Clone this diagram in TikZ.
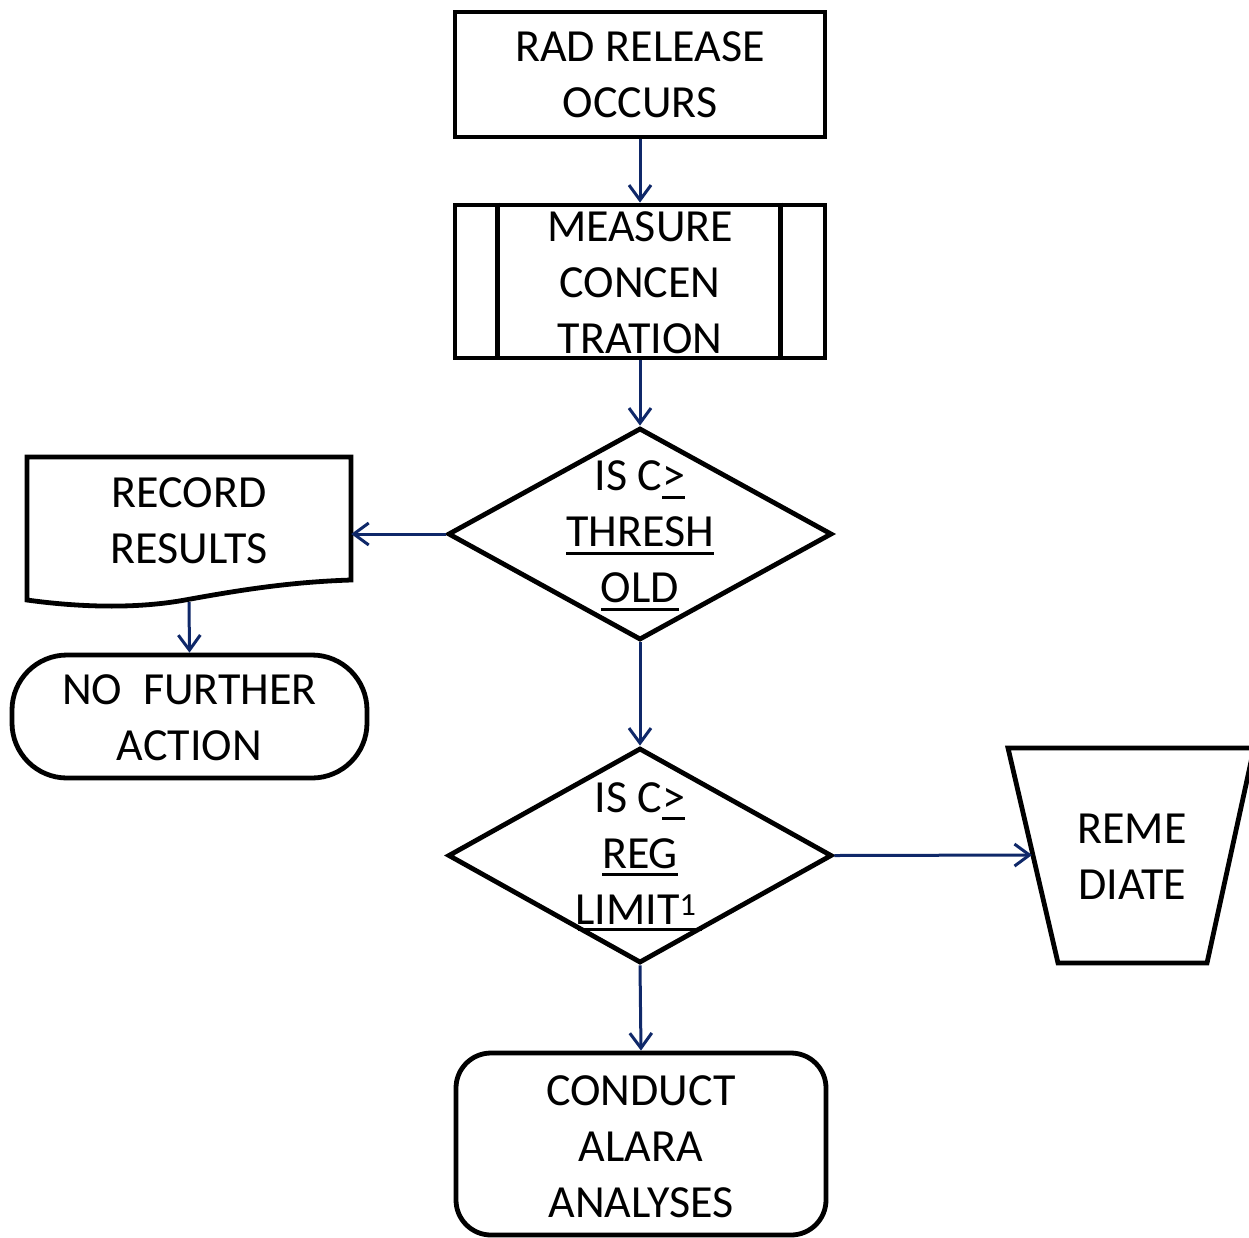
\documentclass[tikz,border=0pt]{standalone}
\usepackage{fontspec}
\setmainfont{Carlito}
\usetikzlibrary{arrows.meta,shapes.geometric}
\definecolor{flowblue}{RGB}{15,40,105}
% underline with a rule of chosen depth and thickness
\newcommand\ulin[3][-8pt]{\leavevmode\setbox0\hbox{#3}\rlap{\rule[#1]{\wd0}{#2}}\box0}

\begin{document}
\begin{tikzpicture}[x=1pt,y=-1pt,
  shp/.style={draw=black,line width=4.8pt,inner sep=0pt},
  lbl/.style={align=center,font=\fontsize{46}{56}\selectfont,inner sep=0pt},
  flow/.style={draw=flowblue,line width=3pt,-{Straight Barb[length=15pt,width=22pt]}}]
\useasboundingbox (0,0) rectangle (1249,1237);

% start event
\node[shp,minimum width=370pt,minimum height=125pt] (rad) at (640,74.5) {};
\node[lbl] at (rad) {RAD RELEASE\\OCCURS};

% predefined process
\node[shp,minimum width=370pt,minimum height=153pt] (meas) at (640,281.5) {};
\draw[line width=4.8pt] ([xshift=45pt]meas.north west) -- ([xshift=45pt]meas.south west);
\draw[line width=4.8pt] ([xshift=-47pt]meas.north east) -- ([xshift=-47pt]meas.south east);
\node[lbl] at (640,283) {MEASURE\\CONCEN\\TRATION};

% first decision
\node[shp,shape=diamond,minimum width=384pt,minimum height=212pt] (d1) at (640,534) {};
\node[lbl] at (640,536) {IS C\ulin{3pt}{>}\\\ulin{3pt}{THRESH}\\\ulin{3pt}{OLD}};

% document
\node[minimum width=324pt,minimum height=145pt,inner sep=0pt] (rec) at (189,529.5) {};
\draw[line width=4.8pt,line join=miter] (27,457) -- (351,457) -- (351,580)
  .. controls (290,582) and (240,590) .. (185,600)
  .. controls (130,610) and (70,606) .. (27,600) -- cycle;
\node[lbl] at (189,521) {RECORD\\RESULTS};

% terminator
\node[shp,minimum width=355pt,minimum height=123pt,rounded corners=55pt] (nfa) at (189.5,716.5) {};
\node[lbl] at (189.5,718) {NO\ \ FURTHER\\ACTION};

% second decision
\node[shp,shape=diamond,minimum width=384pt,minimum height=215pt] (d2) at (640,855.5) {};
\node[lbl] at (640,857) {IS C\ulin{3pt}{>}\\\ulin{3pt}{REG}\\\ulin[-7pt]{3.5pt}{\kern-3pt LIMIT\textsuperscript{1}\kern5pt}};

% manual operation
\node[minimum width=200pt,minimum height=215pt,inner sep=0pt] (rem) at (1132,855.5) {};
\draw[line width=4.8pt,line join=miter] (1254,748) -- (1008,748) -- (1058,963) -- (1207,963) -- (1254,748);
\coordinate (remin) at (1032,855);
\node[lbl] at (1132,857) {REME\\DIATE};

% final process
\node[shp,minimum width=370pt,minimum height=182pt,rounded corners=35pt] (alara) at (641,1144) {};
\node[lbl] at (641,1147) {CONDUCT\\ALARA\\ANALYSES};

% connectors
\draw[flow] (rad.south) -- (meas.north);
\draw[flow] (meas.south) -- (d1.north);
\draw[flow] (d1.west) -- (d1.west -| rec.east);
\draw[flow] (rec.south) -- (nfa.north);
\draw[flow] (d1.south) -- (d2.north);
\draw[flow] (d2.east) -- (remin);
\draw[flow] (d2.south) -- (alara.north);
\end{tikzpicture}
\end{document}
